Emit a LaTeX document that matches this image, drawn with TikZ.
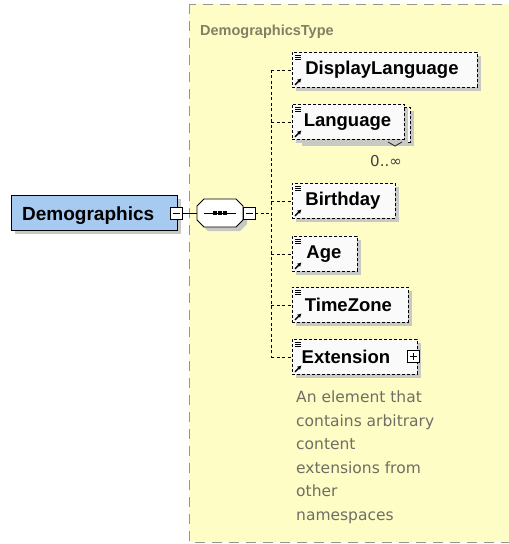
\documentclass[tikz,border=0pt]{standalone}
\usepackage{fontspec}
\setmainfont{Liberation Sans}
\newfontfamily\djv{DejaVu Sans}
\usetikzlibrary{shadows,arrows.meta}
\definecolor{typebg}{RGB}{255,253,198}
\definecolor{typeborder}{RGB}{150,150,140}
\definecolor{titlecol}{RGB}{128,128,100}
\definecolor{demoblue}{RGB}{166,202,240}
\definecolor{elemfill}{RGB}{250,250,250}
\definecolor{shadowcol}{RGB}{200,200,196}
\definecolor{desccol}{RGB}{110,110,100}
\tikzset{
  boxshadow/.style={drop shadow={shadow xshift=4pt, shadow yshift=-4pt, fill=shadowcol, opacity=1}},
  elem/.style={draw=black, line width=0.9pt, dash pattern=on 3pt off 2pt, fill=elemfill,
    boxshadow, anchor=north west, minimum height=35pt, inner sep=0pt,
    font=\fontsize{18.5}{20}\selectfont\bfseries},
  pmbox/.style={draw=black, line width=0.8pt, fill=white, minimum size=12pt, inner sep=0pt},
  conn/.style={line width=0.9pt, dash pattern=on 3pt off 2.5pt},
  solidconn/.style={line width=0.9pt},
}
\newcommand{\elemicons}[1]{%
  \draw[line width=0.7pt] ([xshift=3pt,yshift=-3pt]#1.north west) -- ++(6,0)
    ([xshift=3pt,yshift=-5pt]#1.north west) -- ++(6,0)
    ([xshift=3pt,yshift=-7pt]#1.north west) -- ++(6,0);
  \draw[line width=1.3pt, -{Latex[length=4pt,width=4.5pt]}] ([xshift=3pt,yshift=3pt]#1.south west) -- ++(6.5,-6.5);
}
\newcommand{\octpath}{(204,199) -- (236,199) -- (243,206) -- (243,220) -- (236,227) -- (204,227) -- (197,220) -- (197,206) -- cycle}
\begin{document}
\begin{tikzpicture}[x=1pt,y=-1pt]
\useasboundingbox (0,0) rectangle (509,544);
% type box
\draw[typeborder, fill=typebg, line width=1pt, dash pattern=on 10pt off 7pt] (189,4) rectangle (530,542);
\node[anchor=base west, text=titlecol, font=\fontsize{14.5}{16}\selectfont\bfseries, inner sep=0pt] (title) at (200,35) {DemographicsType};

% root element
\node[draw=black, line width=0.9pt, fill=demoblue, boxshadow, anchor=north west,
  minimum width=166pt, minimum height=35pt, inner sep=0pt] (demo) at (11,195) {};
\node[anchor=base west, inner sep=0pt, font=\fontsize{19}{20}\selectfont\bfseries] (demotext) at (22,220) {Demographics};
\node[pmbox] (demominus) at (176,213) {};
\draw[line width=0.9pt] ([xshift=-3.5pt]demominus.center) -- ([xshift=3.5pt]demominus.center);

% sequence
\node[minimum width=46pt, minimum height=28pt, inner sep=0pt] (seq) at (220,213) {};
\fill[shadowcol, shift={(4,4)}] \octpath;
\draw[line width=0.9pt, fill=white] \octpath;
\draw[line width=1pt] ([xshift=-16pt]seq.center) -- ([xshift=16pt]seq.center);
\foreach \dx in {-5,0,5} \fill ([xshift=\dx pt]seq.center) ++(-1.7,-1.7) rectangle ++(3.4,3.4);
\node[pmbox] (seqminus) at (249,213) {};
\draw[line width=0.9pt] ([xshift=-3.5pt]seqminus.center) -- ([xshift=3.5pt]seqminus.center);
\draw[solidconn] (demominus.east) -- (seq.west);
\draw[solidconn] (seq.east) -- (seqminus.west);
\coordinate (bus) at (271,213);
\draw[conn] (seqminus.east) -- (bus);

% children
\node[elem, minimum width=185pt] (dl) at (292,52) {DisplayLanguage\hspace*{6pt}};
\node[draw=black, line width=0.9pt, dash pattern=on 3pt off 2pt, fill=elemfill, boxshadow,
  anchor=north west, minimum width=112pt, minimum height=35pt, inner sep=0pt] (langback) at (298,107) {};
\node[elem, minimum width=112pt, drop shadow={opacity=0}] (lang) at (292,104) {Language\hspace*{2pt}};
\draw[line width=0.9pt, black!80] (388,142) -- (395,146) -- (402,142);
\node[anchor=base, inner sep=0pt, text=black!75, font=\djv\fontsize{15}{16}\selectfont] (mult) at (386,166) {0..∞};
\node[elem, minimum width=103pt] (bd) at (292,183) {Birthday\hspace*{2pt}};
\node[elem, minimum width=65pt] (age) at (292,236) {Age\hspace*{2pt}};
\node[elem, minimum width=116pt] (tz) at (292,287) {TimeZone\hspace*{4pt}};
\node[elem, minimum width=125pt] (ext) at (292,339) {Extension\hspace*{18pt}};
\node[pmbox] (extplus) at (413,356) {};
\draw[line width=0.9pt] ([xshift=-3.5pt]extplus.center) -- ([xshift=3.5pt]extplus.center)
  ([yshift=-3.5pt]extplus.center) -- ([yshift=3.5pt]extplus.center);

\foreach \n in {dl,lang,bd,age,tz,ext} {\elemicons{\n}}

% bus connectors
\draw[conn] (dl.west -| bus) -- (ext.west -| bus);
\foreach \n in {dl,lang,bd,age,tz,ext} {\draw[conn] (\n.west -| bus) -- (\n.west);}

% description
\node[anchor=north west, align=left, inner sep=0pt, text=desccol,
  font=\djv\fontsize{15.5}{23.5}\selectfont] (desc) at (296,391)
  {An element that\\contains arbitrary\\content\\extensions from\\other\\namespaces};
\end{tikzpicture}
\end{document}
